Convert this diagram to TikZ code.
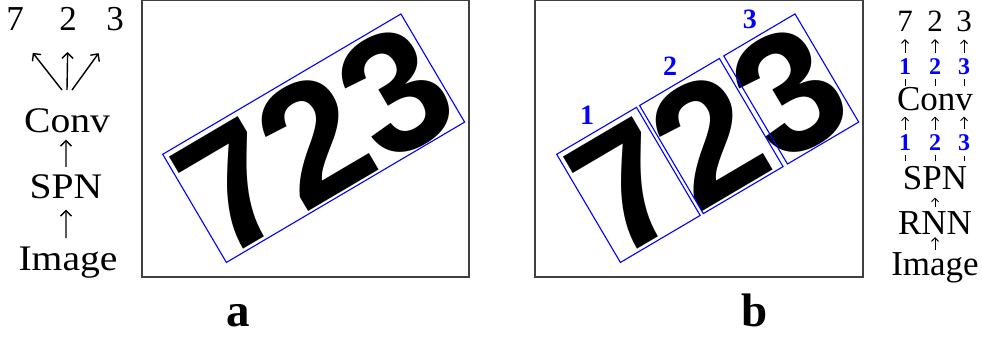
\documentclass[tikz,border=0pt]{standalone}
\usepackage{fontspec}
\setmainfont{Liberation Serif}
\newfontfamily\platefont{Liberation Sans}
\usetikzlibrary{arrows.meta}
\definecolor{boxblue}{HTML}{0000FF}
\definecolor{framegray}{HTML}{404040}

\begin{document}
\begin{tikzpicture}[x=1pt,y=-1pt,
  lbl/.style={font=\fontsize{35}{42}\selectfont,inner sep=0pt,anchor=base},
  wide/.style={lbl,font=\fontsize{36}{42}\selectfont,xscale=1.1},
  digs/.style={lbl,font=\fontsize{31}{36}\selectfont},
  seq/.style={font=\bfseries\fontsize{24}{28}\selectfont,text=boxblue,fill=white,inner sep=5pt},
  seqbig/.style={font=\bfseries\fontsize{28}{32}\selectfont,text=boxblue,inner sep=0pt},
  panel/.style={font=\bfseries\fontsize{47}{56}\selectfont,inner sep=0pt,anchor=base},
  plate/.style={font=\platefont\bfseries\fontsize{170}{170}\selectfont,inner sep=0pt},
  frame/.style={draw=framegray,line width=1.3pt},
  bbox/.style={draw=boxblue,line width=1.1pt},
  arr/.style={-{Straight Barb[length=5.5pt,width=11pt]},line width=1.4pt},
  smallarr/.style={-{Straight Barb[length=3.5pt,width=7pt]},line width=1pt}]
\useasboundingbox (0,0) rectangle (982,338);

% panel a: one box round the whole number
\draw[frame] (142,0.8) rectangle (469,277);
\begin{scope}[shift={(162.7,154.3)},rotate=30.5]
  \node[plate,transform shape] (platea) at (138.3,64.5) {723};
  \draw[bbox] (0,0) rectangle (276.5,125.5);
\end{scope}

% panel b: one box per digit
\draw[frame] (535,0.8) rectangle (863,277);
\begin{scope}[shift={(556.7,154.3)},rotate=30.5]
  \node[plate,transform shape] (plateb) at (138.3,64.5) {723};
  \draw[bbox] (0,0) rectangle (92.6,125.5);
  \draw[bbox] (96.2,0) rectangle (188.8,125.5);
  \draw[bbox] (193.9,0) rectangle (276.6,125.5);
  \node[seqbig] (boxone) at (46.3,-18.5) {1};
  \node[seqbig] (boxtwo) at (142.5,-18.5) {2};
  \node[seqbig] (boxthree) at (235.2,-18.5) {3};
\end{scope}

\node[panel] (laba) at (238,326.7) {a};
\node[panel] (labb) at (755,326.7) {b};

% left pipeline
\node[lbl] (sevena) at (15,30) {7};
\node[lbl] (twoa) at (68,30) {2};
\node[lbl] (threea) at (115,30) {3};
\node[wide] (conva) at (67,132) {Conv};
\node[wide] (spna) at (66,198) {SPN};
\node[wide] (imagea) at (68,270) {Image};
\coordinate (fana) at (67,90);
\draw[arr,shorten >=28.8pt] ([xshift=-5pt]fana) -- (sevena.south);
\draw[arr,shorten >=21.7pt] (fana) -- (twoa.south);
\draw[arr,shorten >=27.9pt] ([xshift=5pt]fana) -- (threea.south);
\draw[arr,shorten <=7pt,shorten >=7pt] (spna) -- (spna |- conva.south);
\draw[arr,shorten <=8pt,shorten >=11pt] (imagea.north -| spna) -- (spna);

% right pipeline
\node[digs] (sevenb) at (905,31) {7};
\node[digs] (twob) at (935,31) {2};
\node[digs] (threeb) at (964,31) {3};
\node[lbl] (convb) at (935,110) {Conv};
\node[lbl] (spnb) at (935,189) {SPN};
\node[lbl] (rnnb) at (935,234) {RNN};
\node[lbl] (imageb) at (935,275) {Image};
\draw[smallarr,shorten <=1pt,shorten >=8pt] ([xshift=-30pt]convb.north) -- (sevenb) node[seq,pos=0.37] (outone) {1};
\draw[smallarr,shorten <=1pt,shorten >=8pt] (convb.north) -- (twob) node[seq,pos=0.37] (outtwo) {2};
\draw[smallarr,shorten <=1pt,shorten >=8pt] ([xshift=29pt]convb.north) -- (threeb) node[seq,pos=0.37] (outthree) {3};
\draw[smallarr,shorten <=5pt,shorten >=6pt] ([xshift=-30pt]spnb.north) -- ([xshift=-30pt]convb.south) node[seq,pos=0.42] (inone) {1};
\draw[smallarr,shorten <=5pt,shorten >=6pt] (spnb.north) -- (convb.south) node[seq,pos=0.42] (intwo) {2};
\draw[smallarr,shorten <=5pt,shorten >=6pt] ([xshift=29pt]spnb.north) -- ([xshift=29pt]convb.south) node[seq,pos=0.42] (inthree) {3};
\draw[smallarr,shorten <=4pt,shorten >=8pt] (rnnb) -- (spnb);
\draw[smallarr,shorten <=2pt,shorten >=3pt] (imageb) -- (rnnb);
\end{tikzpicture}
\end{document}
